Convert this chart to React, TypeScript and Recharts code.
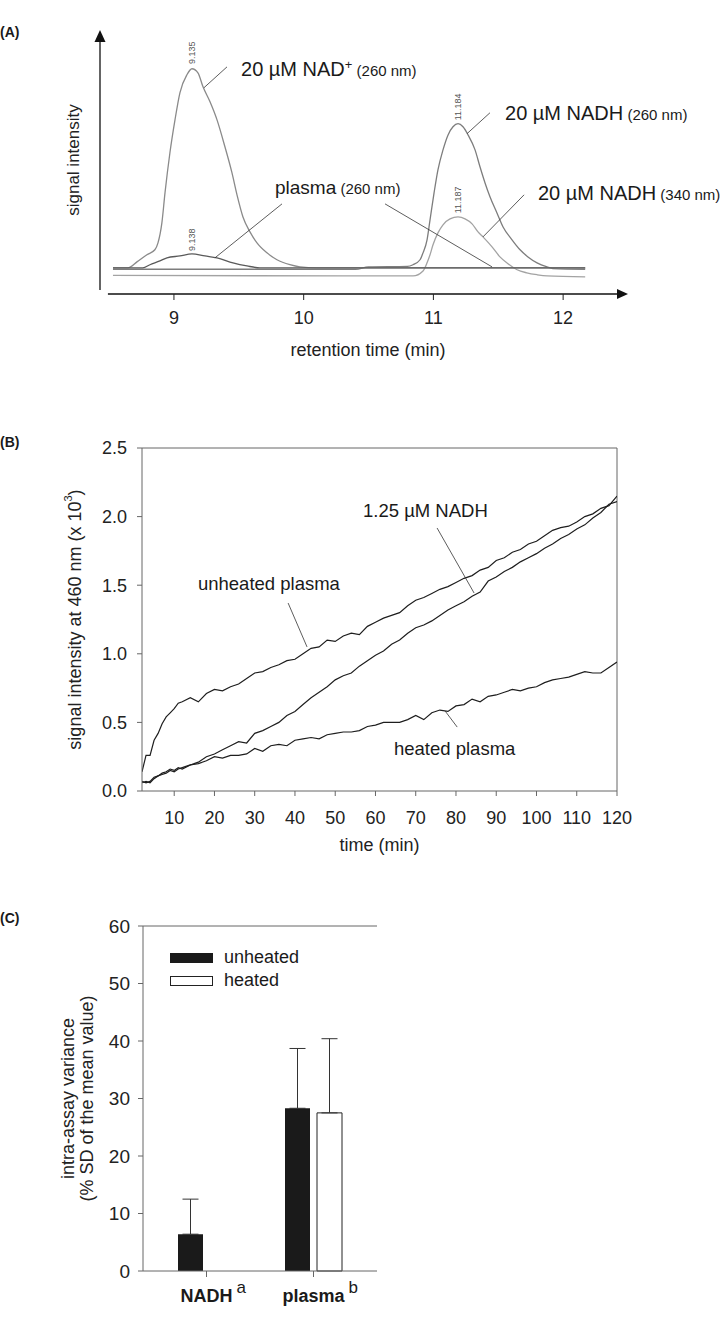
import React from 'react';
import {
  LineChart, Line, BarChart, Bar, XAxis, YAxis, ReferenceLine, ReferenceDot, ErrorBar, Legend, Label,
} from 'recharts';

const FONT = '"Liberation Sans", Arial, Helvetica, sans-serif';

// ---------- (A) HPLC chromatogram: retention time (min) vs signal ----------
const nadTime = [8.53, 8.645, 8.715, 8.792, 8.853, 8.877, 8.907, 8.931, 8.969, 9.008, 9.046, 9.1, 9.139, 9.185, 9.224, 9.278, 9.332, 9.393, 9.447, 9.486, 9.532, 9.586, 9.64, 9.717, 9.794, 9.894, 9.971, 10.1, 10.6, 11.2, 11.7, 12.17];
const nadSignal = [0, 0, 2.5, 5.5, 7.6, 10.5, 18.9, 31.5, 48.4, 62.2, 73.6, 81.2, 83.7, 82.0, 76.1, 69.8, 62.2, 50.9, 40.0, 30.7, 21.4, 15.1, 10.5, 6.3, 3.4, 1.3, 0.4, 0, 0, 0, 0, 0];

const plasmaTime = [8.53, 8.76, 8.815, 8.892, 8.946, 9.046, 9.139, 9.239, 9.332, 9.455, 9.563, 9.663, 10.5, 11.5, 12.17];
const plasmaSignal = [0, 0, 1.3, 2.9, 4.2, 5.0, 5.9, 5.0, 4.2, 2.1, 0.8, 0, 0, 0, 0];

const nadh260Time = [8.53, 10.4, 10.5, 10.8, 10.843, 10.897, 10.92, 10.951, 10.974, 11.005, 11.035, 11.074, 11.113, 11.151, 11.19, 11.228, 11.267, 11.321, 11.359, 11.398, 11.436, 11.49, 11.537, 11.606, 11.668, 11.729, 11.799, 11.876, 11.92, 12.17];
const nadh260Signal = [-0.6, -0.6, 0.4, 0.6, 1.3, 3.4, 6.3, 11.8, 20.2, 31.5, 41.2, 49.6, 55.9, 59.3, 60.6, 59.3, 55.9, 49.6, 42.5, 35.7, 29.9, 23.1, 17.2, 11.8, 7.6, 4.6, 2.1, 0.4, -0.3, -0.6];

const nadh340Time = [8.53, 10.6, 10.843, 10.92, 10.951, 10.974, 10.997, 11.035, 11.074, 11.128, 11.19, 11.244, 11.298, 11.344, 11.382, 11.452, 11.513, 11.575, 11.645, 11.72, 11.799, 11.876, 12.17];
const nadh340Signal = [-3.2, -3.4, -3.4, -1.3, 2.1, 5.5, 9.7, 14.7, 18.1, 20.6, 21.4, 20.6, 18.5, 15.1, 13.0, 8.8, 4.6, 1.7, -0.8, -2.1, -2.9, -3.4, -3.8];

const aTicks = [9, 10, 11, 12];

// ---------- (B) fluorescence at 460 nm over time ----------
const bTime = [2, 3, 4, 5, 6, 7, 8, 9, 10, 11, 12, 14, 16, 18, 20, 22, 24, 26, 28, 30, 32, 34, 36, 38, 40, 42, 44, 46, 48, 50, 52, 54, 56, 58, 60, 62, 64, 66, 68, 70, 72, 74, 76, 78, 80, 82, 84, 86, 88, 90, 92, 94, 96, 98, 100, 102, 104, 106, 108, 110, 112, 114, 116, 118, 120];
const bUnheated = [0.14, 0.26, 0.26, 0.37, 0.42, 0.49, 0.54, 0.57, 0.6, 0.64, 0.65, 0.68, 0.65, 0.71, 0.74, 0.73, 0.76, 0.78, 0.82, 0.86, 0.87, 0.9, 0.92, 0.95, 0.96, 1.0, 1.04, 1.05, 1.1, 1.09, 1.13, 1.15, 1.14, 1.2, 1.23, 1.26, 1.28, 1.3, 1.35, 1.39, 1.41, 1.44, 1.47, 1.49, 1.52, 1.55, 1.57, 1.61, 1.63, 1.68, 1.7, 1.74, 1.76, 1.8, 1.82, 1.86, 1.9, 1.92, 1.93, 1.96, 2.0, 2.02, 2.06, 2.08, 2.15];
const bNadh = [0.07, 0.06, 0.07, 0.1, 0.11, 0.13, 0.14, 0.16, 0.15, 0.17, 0.16, 0.19, 0.21, 0.25, 0.27, 0.3, 0.33, 0.36, 0.35, 0.42, 0.44, 0.47, 0.5, 0.55, 0.58, 0.63, 0.68, 0.72, 0.76, 0.81, 0.84, 0.86, 0.91, 0.95, 0.99, 1.02, 1.07, 1.1, 1.15, 1.19, 1.21, 1.24, 1.28, 1.32, 1.35, 1.38, 1.42, 1.45, 1.53, 1.56, 1.6, 1.63, 1.67, 1.7, 1.73, 1.77, 1.8, 1.84, 1.87, 1.91, 1.94, 1.99, 2.03, 2.09, 2.11];
const bHeated = [0.06, 0.07, 0.06, 0.09, 0.11, 0.12, 0.13, 0.15, 0.14, 0.16, 0.17, 0.19, 0.2, 0.22, 0.25, 0.24, 0.26, 0.26, 0.27, 0.31, 0.29, 0.33, 0.34, 0.33, 0.37, 0.38, 0.39, 0.38, 0.41, 0.42, 0.43, 0.43, 0.44, 0.47, 0.48, 0.5, 0.5, 0.5, 0.52, 0.55, 0.52, 0.57, 0.59, 0.58, 0.62, 0.63, 0.67, 0.65, 0.69, 0.7, 0.72, 0.74, 0.73, 0.75, 0.76, 0.79, 0.81, 0.82, 0.83, 0.85, 0.87, 0.86, 0.86, 0.9, 0.94];
const bTicksX = [10, 20, 30, 40, 50, 60, 70, 80, 90, 100, 110, 120];
const bTicksY = [0, 0.5, 1, 1.5, 2, 2.5];

// ---------- (C) intra-assay variance ----------
const cCategories = ['NADH', 'plasma'];
const cSuperscripts = ['a', 'b'];
const cUnheated = [6.4, 28.3];
const cUnheatedSd = [6.1, 10.4];
const cHeated = [null, 27.5];
const cHeatedSd = [null, 12.9];
const cTicksY = [0, 10, 20, 30, 40, 50, 60];
const cLegend = ['unheated', 'heated'];

const toPoints = (ts: number[], vs: number[]) => ts.map((t, i) => ({ t, v: vs[i] }));

// render helper: a ReferenceDot whose shape is a piece of text
const note = (render: (cx: number, cy: number) => React.ReactElement) => (props: any) => render(props.cx, props.cy);

const arrowUp = (p: any) => <polygon points={`${p.cx},${p.cy} ${p.cx - 5.5},${p.cy + 12} ${p.cx + 5.5},${p.cy + 12}`} fill="#111" />;
const arrowRight = (p: any) => <polygon points={`${p.cx},${p.cy} ${p.cx - 11},${p.cy - 5} ${p.cx - 11},${p.cy + 5}`} fill="#111" />;

function PeakLabel(cx: number, cy: number, text: string) {
  return (
    <text x={cx} y={cy} transform={`rotate(-90 ${cx} ${cy})`} textAnchor="middle" dominantBaseline="central"
      fontSize={9} fill="#555" fontFamily={FONT}>{text}</text>
  );
}

function CompoundLabel(cx: number, cy: number, main: string, sup: string | null, paren: string, mainSize = 20) {
  return (
    <text x={cx} y={cy + 7} fontFamily={FONT} fill="#1a1a1a" fontSize={mainSize}>
      <tspan>{main}</tspan>
      {sup && <tspan dy={-7} fontSize={13}>{sup}</tspan>}
      <tspan dy={sup ? 7 : 0} fontSize={15}>{paren}</tspan>
    </text>
  );
}

function PanelA() {
  const leader = { stroke: '#333', strokeWidth: 0.8, ifOverflow: 'visible' as const };
  return (
    <LineChart width={720} height={370} margin={{ top: 30, right: 92, bottom: 46, left: 40 }}>
      <XAxis dataKey="t" type="number" domain={[8.43, 12.5]} ticks={aTicks} allowDataOverflow
        axisLine={false} tickLine={{ stroke: '#222' }} tickSize={6} tickMargin={11} height={30}
        tick={{ fontSize: 18, fill: '#222', fontFamily: FONT }}>
        <Label content={(p: any) => {
          const vb = p.viewBox || { x: 100, y: 294, width: 528 };
          return <text x={vb.x + vb.width / 2 + 4} y={vb.y + 62} textAnchor="middle" fontSize={18}
            fill="#222" fontFamily={FONT}>retention time (min)</text>;
        }} />
      </XAxis>
      <YAxis type="number" domain={[-11, 100]} width={60} tick={false} axisLine={false} tickLine={false} allowDataOverflow>
        <Label content={(p: any) => {
          const vb = p.viewBox || { x: 40, y: 30, width: 60, height: 264 };
          const cx = vb.x + 33;
          const cy = vb.y + vb.height / 2 - 2;
          return <text x={cx} y={cy} transform={`rotate(-90 ${cx} ${cy})`} textAnchor="middle"
            dominantBaseline="central" fontSize={17} fill="#222" fontFamily={FONT}>signal intensity</text>;
        }} />
      </YAxis>

      {/* arrow axes */}
      <ReferenceLine segment={[{ x: 8.43, y: -9.3 }, { x: 8.43, y: 96 }]} stroke="#111" strokeWidth={1.3} ifOverflow="visible" />
      <ReferenceLine segment={[{ x: 8.491, y: -11 }, { x: 12.43, y: -11 }]} stroke="#111" strokeWidth={1.3} ifOverflow="visible" />
      <ReferenceDot x={8.43} y={100} ifOverflow="visible" shape={arrowUp} />
      <ReferenceDot x={12.5} y={-11} ifOverflow="visible" shape={arrowRight} />

      <Line data={toPoints(nadh340Time, nadh340Signal)} dataKey="v" type="monotone" stroke="#a3a3a3" strokeWidth={1.3} dot={false} isAnimationActive={false} />
      <Line data={toPoints(nadh260Time, nadh260Signal)} dataKey="v" type="monotone" stroke="#7d7d7d" strokeWidth={1.3} dot={false} isAnimationActive={false} />
      <Line data={toPoints(nadTime, nadSignal)} dataKey="v" type="monotone" stroke="#8a8a8a" strokeWidth={1.3} dot={false} isAnimationActive={false} />
      <Line data={toPoints(plasmaTime, plasmaSignal)} dataKey="v" type="monotone" stroke="#5a5a5a" strokeWidth={1.3} dot={false} isAnimationActive={false} />

      {/* leader lines */}
      <ReferenceLine segment={[{ x: 9.409, y: 84.5 }, { x: 9.231, y: 75.7 }]} {...leader} />
      <ReferenceLine segment={[{ x: 11.436, y: 65.2 }, { x: 11.259, y: 56.4 }]} {...leader} />
      <ReferenceLine segment={[{ x: 9.833, y: 26.9 }, { x: 9.316, y: 4.2 }]} {...leader} />
      <ReferenceLine segment={[{ x: 10.627, y: 26.9 }, { x: 11.452, y: 0.4 }]} {...leader} />
      <ReferenceLine segment={[{ x: 11.699, y: 30.7 }, { x: 11.382, y: 13.0 }]} {...leader} />

      {/* peak retention times */}
      <ReferenceDot x={9.139} y={90.4} ifOverflow="visible" shape={note((cx, cy) => PeakLabel(cx, cy, '9.135'))} />
      <ReferenceDot x={9.139} y={11.8} ifOverflow="visible" shape={note((cx, cy) => PeakLabel(cx, cy, '9.138'))} />
      <ReferenceDot x={11.19} y={67.7} ifOverflow="visible" shape={note((cx, cy) => PeakLabel(cx, cy, '11.184'))} />
      <ReferenceDot x={11.19} y={28.6} ifOverflow="visible" shape={note((cx, cy) => PeakLabel(cx, cy, '11.187'))} />

      {/* trace labels */}
      <ReferenceDot x={9.517} y={83.7} ifOverflow="visible" shape={note((cx, cy) => CompoundLabel(cx, cy, '20 µM NAD', '+', ' (260 nm)'))} />
      <ReferenceDot x={11.552} y={65.2} ifOverflow="visible" shape={note((cx, cy) => CompoundLabel(cx, cy, '20 µM NADH', null, ' (260 nm)'))} />
      <ReferenceDot x={9.779} y={34.1} ifOverflow="visible" shape={note((cx, cy) => CompoundLabel(cx, cy, 'plasma', null, ' (260 nm)', 19))} />
      <ReferenceDot x={11.806} y={31.5} ifOverflow="visible" shape={note((cx, cy) => CompoundLabel(cx, cy, '20 µM NADH', null, ' (340 nm)'))} />
    </LineChart>
  );
}

function PlainNote(cx: number, cy: number, text: string) {
  return <text x={cx} y={cy + 6.5} fontSize={18.5} fill="#1a1a1a" fontFamily={FONT}>{text}</text>;
}

function PanelB() {
  const data = bTime.map((t, i) => ({ t, unheated: bUnheated[i], nadh: bNadh[i], heated: bHeated[i] }));
  const leader = { stroke: '#333', strokeWidth: 0.8, ifOverflow: 'visible' as const };
  return (
    <LineChart width={720} height={500} data={data} margin={{ top: 78, right: 103, bottom: 39, left: 82 }}>
      <XAxis dataKey="t" type="number" domain={[2, 120]} ticks={bTicksX} allowDataOverflow height={40}
        stroke="#666" tickSize={5} tickMargin={15} tick={{ fontSize: 18, fill: '#222', fontFamily: FONT }}>
        <Label content={(p: any) => {
          const vb = p.viewBox || { x: 142, y: 421, width: 475 };
          return <text x={vb.x + vb.width / 2} y={vb.y + 60} textAnchor="middle" fontSize={18}
            fill="#222" fontFamily={FONT}>time (min)</text>;
        }} />
      </XAxis>
      <YAxis type="number" domain={[0, 2.5]} ticks={bTicksY} tickFormatter={(v: number) => v.toFixed(1)}
        width={60} stroke="#666" tickSize={5} tickMargin={10} tick={{ fontSize: 18, fill: '#222', fontFamily: FONT }}>
        <Label content={(p: any) => {
          const vb = p.viewBox || { x: 82, y: 78, width: 60, height: 343 };
          const cx = vb.x - 7;
          const cy = vb.y + vb.height / 2;
          return (
            <text x={cx} y={cy} transform={`rotate(-90 ${cx} ${cy})`} textAnchor="middle"
              dominantBaseline="central" fontSize={18} fill="#222" fontFamily={FONT}>
              signal intensity at 460 nm (x 10<tspan dy={-7} fontSize={11}>3</tspan><tspan dy={7}>)</tspan>
            </text>
          );
        }} />
      </YAxis>
      <ReferenceLine y={2.5} stroke="#666" ifOverflow="visible" />
      <ReferenceLine x={120} stroke="#666" ifOverflow="visible" />

      <Line dataKey="unheated" type="linear" stroke="#1e1e1e" strokeWidth={1.2} dot={false} isAnimationActive={false} />
      <Line dataKey="nadh" type="linear" stroke="#1e1e1e" strokeWidth={1.2} dot={false} isAnimationActive={false} />
      <Line dataKey="heated" type="linear" stroke="#1e1e1e" strokeWidth={1.2} dot={false} isAnimationActive={false} />

      <ReferenceLine segment={[{ x: 75.3, y: 1.917 }, { x: 84.5, y: 1.443 }]} {...leader} />
      <ReferenceLine segment={[{ x: 38.3, y: 1.37 }, { x: 43.0, y: 1.05 }]} {...leader} />
      <ReferenceLine segment={[{ x: 77.3, y: 0.583 }, { x: 80.3, y: 0.466 }]} {...leader} />

      <ReferenceDot x={56.9} y={2.048} ifOverflow="visible" shape={note((cx, cy) => PlainNote(cx, cy, '1.25 µM NADH'))} />
      <ReferenceDot x={15.9} y={1.516} ifOverflow="visible" shape={note((cx, cy) => PlainNote(cx, cy, 'unheated plasma'))} />
      <ReferenceDot x={64.6} y={0.313} ifOverflow="visible" shape={note((cx, cy) => PlainNote(cx, cy, 'heated plasma'))} />
    </LineChart>
  );
}

const CatTick = (props: any) => {
  const { x, y, payload } = props;
  const i = cCategories.indexOf(payload.value);
  const sup = cSuperscripts[i] || '';
  return (
    <text x={x} y={y + 23} textAnchor="middle" fontFamily={FONT} fill="#1a1a1a">
      <tspan fontSize={17} dy={-9} fillOpacity={0}>{sup}</tspan>
      <tspan fontSize={18} fontWeight="bold" dy={9} dx={4}>{payload.value}</tspan>
      <tspan fontSize={17} dy={-9} dx={4}>{sup}</tspan>
    </text>
  );
};

function LegendC() {
  const boxes = [
    { background: '#1a1a1a', border: '1px solid #1a1a1a' },
    { background: '#fff', border: '1px solid #222' },
  ];
  return (
    <div style={{ fontFamily: FONT, fontSize: 18, color: '#1a1a1a' }}>
      {cLegend.map((name, i) => (
        <div key={name} style={{ display: 'flex', alignItems: 'center', height: 23 }}>
          <span style={{ display: 'inline-block', width: 41, height: 8, ...boxes[i] }} />
          <span style={{ marginLeft: 11, lineHeight: '23px' }}>{name}</span>
        </div>
      ))}
    </div>
  );
}

function PanelC() {
  const data = cCategories.map((name, i) => ({
    name,
    unheated: cUnheated[i],
    unheatedErr: [0, cUnheatedSd[i]],
    heated: cHeated[i],
    heatedErr: cHeatedSd[i] == null ? null : [0, cHeatedSd[i]],
  }));
  return (
    <BarChart width={720} height={452} data={data} margin={{ top: 56, right: 343, bottom: 11, left: 80 }} barSize={25} barGap={7}>
      <XAxis dataKey="name" padding={{ left: 10, right: 10 }} height={40} interval={0} stroke="#666" tickSize={6}
        tick={(p: any) => <CatTick {...p} />} />
      <YAxis domain={[0, 60]} ticks={cTicksY} width={63} stroke="#666" tickSize={5} tickMargin={8}
        tick={{ fontSize: 19, fill: '#222', fontFamily: FONT }}>
        <Label content={(p: any) => {
          const vb = p.viewBox || { x: 80, y: 56, width: 63, height: 345 };
          const cy = vb.y + vb.height / 2;
          const x1 = vb.x - 12;
          const x2 = vb.x + 7;
          return (
            <g>
              <text x={x1} y={cy} transform={`rotate(-90 ${x1} ${cy})`} textAnchor="middle" dominantBaseline="central"
                fontSize={18} fill="#222" fontFamily={FONT}>intra-assay variance</text>
              <text x={x2} y={cy} transform={`rotate(-90 ${x2} ${cy})`} textAnchor="middle" dominantBaseline="central"
                fontSize={18} fill="#222" fontFamily={FONT}>(% SD of the mean value)</text>
            </g>
          );
        }} />
      </YAxis>
      <YAxis yAxisId="right" orientation="right" domain={[0, 60]} width={0} tick={false} tickLine={false} stroke="#666" />
      <ReferenceLine y={60} stroke="#666" ifOverflow="visible" />
      <Legend layout="horizontal" verticalAlign="middle" align="center"
        wrapperStyle={{ top: 76, left: 170, width: 200, height: 46 }} content={() => <LegendC />} />
      <Bar dataKey="unheated" fill="#1a1a1a" isAnimationActive={false}>
        <ErrorBar dataKey="unheatedErr" width={8} stroke="#333" strokeWidth={1} />
      </Bar>
      <Bar dataKey="heated" fill="#ffffff" stroke="#222" strokeWidth={1} isAnimationActive={false}>
        <ErrorBar dataKey="heatedErr" width={8} stroke="#333" strokeWidth={1} />
      </Bar>
    </BarChart>
  );
}

const panelLabel = (text: string, top: number) => (
  <div style={{ position: 'absolute', left: 0, top, fontFamily: FONT, fontWeight: 'bold', fontSize: 14, color: '#1a1a1a' }}>{text}</div>
);

export default function App() {
  return (
    <div style={{ position: 'absolute', left: 0, top: 0, width: 720, height: 1322, background: '#fff', overflow: 'hidden' }}>
      {panelLabel('(A)', 24)}
      {panelLabel('(B)', 434)}
      {panelLabel('(C)', 910)}
      <div style={{ position: 'absolute', left: 0, top: 0 }}><PanelA /></div>
      <div style={{ position: 'absolute', left: 0, top: 370 }}><PanelB /></div>
      <div style={{ position: 'absolute', left: 0, top: 870 }}><PanelC /></div>
    </div>
  );
}
